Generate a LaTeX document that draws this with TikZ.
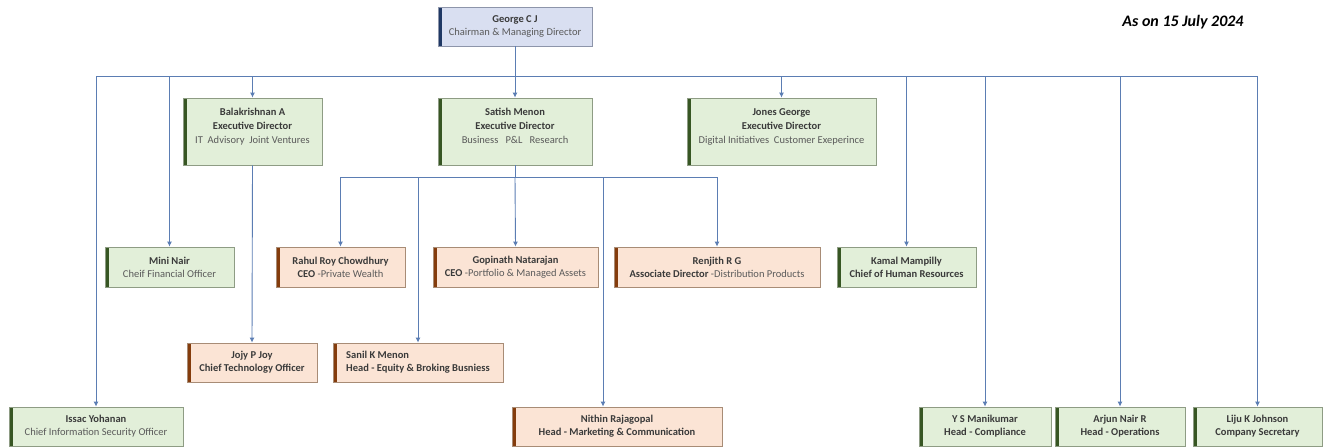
\documentclass[tikz,border=0pt]{standalone}
\usepackage{fontspec}
\setmainfont{Carlito}
\usetikzlibrary{positioning,arrows.meta}
\definecolor{linkblue}{HTML}{5B7DB3}
\definecolor{edfill}{HTML}{E2EFD9}
\definecolor{edbar}{HTML}{375623}
\definecolor{edline}{HTML}{8E9C84}
\definecolor{opfill}{HTML}{FBE4D5}
\definecolor{opbar}{HTML}{843C0C}
\definecolor{opline}{HTML}{A88C76}
\definecolor{topfill}{HTML}{D9DFF1}
\definecolor{topbar}{HTML}{1F3864}
\definecolor{topline}{HTML}{8D95AA}
\definecolor{roletext}{HTML}{5A5A5A}
\definecolor{nametext}{HTML}{3A3A3A}
\def\pname#1{{\bfseries\color{nametext}#1}}
\def\AsOn{As on 15 July 2024}

\begin{document}
\begin{tikzpicture}[x=1pt,y=-1pt,% one unit per pixel of the chart, y runs downwards
			every node/.style={
				align=center,  		% use this so that the "\\" for line break works
				font=\fontsize{10.5}{13}\selectfont,
				text=roletext,
				inner sep=0pt,
				minimum height=40pt	% two lines of text and a little air
			},
			barbox/.style={draw=#1line,fill=#1fill,line width=0.8pt,
				path picture={\fill[#1bar] (path picture bounding box.north west) rectangle ([xshift=3.5pt]path picture bounding box.south west);}},
			chairbox/.style={barbox=top},
			staffbox/.style={barbox=ed},
			bizbox/.style={barbox=op},
			edbox/.style={barbox=ed,minimum height=67pt,text height=45pt,text depth=22pt,
				font=\fontsize{10.5}{14}\selectfont},
			every edge/.style={draw=linkblue,line width=0.9pt},
			>={Latex[length=5pt,width=5pt]}
		]
		\useasboundingbox (0,0) rectangle (1328,447);
		% top
		\node[chairbox,minimum width=154pt,minimum height=39pt](george) at (515,26.5){\pname{George C J}\\Chairman \& Managing Director};
		\node[font=\fontsize{16}{18}\selectfont\bfseries\itshape,text=black,minimum height=0pt](date) at (1183,22){\AsOn};
		% executive directors
		\node[edbox,minimum width=139pt](bala) at (252.5,131.5){\pname{Balakrishnan A}\\\pname{Executive Director}\\IT\ \ Advisory\ \ Joint Ventures};
		\node[edbox,minimum width=154pt](satish) at (515,131.5){\pname{Satish Menon}\\\pname{Executive Director}\\Business\ \ \ P\&L\ \ \ Research};
		\node[edbox,minimum width=189pt](jones) at (781.5,131.5){\pname{Jones George}\\\pname{Executive Director}\\Digital Initiatives\ \ Customer Exeperince};
		% second row
		\node[staffbox,minimum width=129pt](mini) at (169.5,267){\pname{Mini Nair}\\Cheif Financial Officer};
		\node[bizbox,minimum width=129pt](rahul) at (340.5,267){\pname{Rahul Roy Chowdhury}\\\pname{CEO} -Private Wealth};
		\node[bizbox,minimum width=165pt](gopi) at (515.5,267){\pname{Gopinath Natarajan}\\\pname{CEO} -Portfolio \& Managed Assets};
		\node[bizbox,minimum width=206pt](renjith) at (717,267){\pname{Renjith R G}\\\pname{Associate Director} -Distribution Products};
		\node[staffbox,minimum width=139pt](kamal) at (906.5,267){\pname{Kamal Mampilly}\\\pname{Chief of Human Resources}};
		% third row
		\node[bizbox,minimum width=130pt,minimum height=39pt](jojy) at (252,362.5){\pname{Jojy P Joy}\\\pname{Chief Technology Officer}};
		\node[bizbox,minimum width=170pt,minimum height=39pt,align=left](sanil) at (418,362.5){\pname{Sanil K Menon}\\\pname{Head - Equity \& Broking Busniess}};
		% bottom row
		\node[staffbox,minimum width=174pt,minimum height=39pt](issac) at (96,426.5){\pname{Issac Yohanan}\\Chief Information Security Officer};
		\node[bizbox,minimum width=210pt,minimum height=39pt](nithin) at (617,426.5){\pname{Nithin Rajagopal}\\\pname{Head - Marketing \& Communication}};
		\node[staffbox,minimum width=132pt,minimum height=39pt](ysm) at (985,426.5){\pname{Y S Manikumar}\\\pname{Head - Compliance}};
		\node[staffbox,minimum width=130pt,minimum height=39pt](arjun) at (1120,426.5){\pname{Arjun Nair R}\\\pname{Head - Operations}};
		\node[staffbox,minimum width=129pt,minimum height=39pt](liju) at (1257.5,426.5){\pname{Liju K Johnson}\\\pname{Company Secretary}};
		% the two bus lines
		\coordinate (bus) at (0,76);
		\coordinate (sbus) at (0,177);
		\path
		(issac.north |- bus) edge (liju.north |- bus)
		(rahul.north |- sbus) edge (renjith.north |- sbus)
		(satish.south) edge (satish.south |- sbus)
		(bala.south) edge[->] (jojy.north)
		(george.south) edge[->] (satish.north)
		;
		\path[->]
		(issac.north |- bus) edge (issac.north)
		(mini.north |- bus) edge (mini.north)
		(bala.north |- bus) edge (bala.north)
		(jones.north |- bus) edge (jones.north)
		(kamal.north |- bus) edge (kamal.north)
		(ysm.north |- bus) edge (ysm.north)
		(arjun.north |- bus) edge (arjun.north)
		(liju.north |- bus) edge (liju.north)
		(rahul.north |- sbus) edge (rahul.north)
		(sanil.north |- sbus) edge (sanil.north)
		(satish.south |- sbus) edge (gopi.north)
		([xshift=-14pt]nithin.north |- sbus) edge ([xshift=-14pt]nithin.north)
		(renjith.north |- sbus) edge (renjith.north)
		;
	\end{tikzpicture}
\end{document}
